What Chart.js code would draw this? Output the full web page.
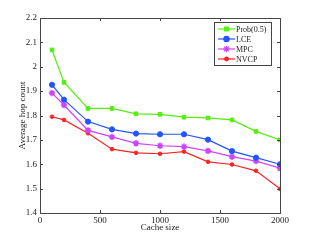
<!DOCTYPE html>
<html lang="en">
<head>
<meta charset="UTF-8">
<title>Average hop count vs cache size</title>
<style>
  html, body { margin: 0; padding: 0; background: #fff; }
  #wrap { width: 310px; height: 240px; }
</style>
</head>
<body>
<div id="wrap"><canvas id="myChart" width="310" height="240"></canvas></div>

<script src="https://cdn.jsdelivr.net/npm/chart.js@4/dist/chart.umd.min.js"></script>
<script>
    // data
    var cacheSizes = [100, 200, 400, 600, 800, 1000, 1200, 1400, 1600, 1800, 2000];
    var prob05 = [2.069, 1.936, 1.829, 1.829, 1.807, 1.805, 1.793, 1.790, 1.782, 1.735, 1.700];
    var lce    = [1.926, 1.865, 1.775, 1.743, 1.726, 1.723, 1.723, 1.701, 1.654, 1.627, 1.600];
    var mpc    = [1.892, 1.843, 1.739, 1.712, 1.686, 1.676, 1.672, 1.655, 1.631, 1.613, 1.584];
    var nvcp   = [1.795, 1.782, 1.727, 1.662, 1.647, 1.643, 1.652, 1.610, 1.599, 1.573, 1.499];
    var xTicks = [0, 500, 1000, 1500, 2000];
    var yTicks = [1.4, 1.5, 1.6, 1.7, 1.8, 1.9, 2.0, 2.1, 2.2];

    var FONT = '"Liberation Serif", "DejaVu Serif", serif';

    function series(label, values, color, style, radius) {
        return {
            label: label,
            data: cacheSizes.map(function (x, i) { return { x: x, y: values[i] }; }),
            borderColor: color,
            backgroundColor: color,
            pointStyle: style,
            pointRadius: radius,
            pointBorderWidth: style === 'star' ? 1.5 : 1,
            borderWidth: 1.2,
            tension: 0
        };
    }

    var datasets = [
        series('Prob(0.5)', prob05, '#55ee11', 'rect', 2.6),
        series('LCE', lce, '#2255ff', 'circle', 2.6),
        series('MPC', mpc, '#cc44ff', 'star', 3.2),
        series('NVCP', nvcp, '#ff2222', 'circle', 1.8)
    ];

    // frame, inward ticks and boxed legend
    var framePlugin = {
        id: 'frame',
        afterDraw: function (chart) {
            var ctx = chart.ctx, a = chart.chartArea;
            var xs = chart.scales.x, ys = chart.scales.y;
            ctx.save();
            ctx.strokeStyle = '#444';
            ctx.lineWidth = 1;
            ctx.strokeRect(a.left + 0.5, a.top + 0.5, a.right - a.left, a.bottom - a.top);
            ctx.beginPath();
            xTicks.forEach(function (v) {
                var px = Math.round(xs.getPixelForValue(v)) + 0.5;
                ctx.moveTo(px, a.bottom); ctx.lineTo(px, a.bottom - 3);
                ctx.moveTo(px, a.top); ctx.lineTo(px, a.top + 3);
            });
            yTicks.forEach(function (v) {
                var py = Math.round(ys.getPixelForValue(v)) + 0.5;
                ctx.moveTo(a.left, py); ctx.lineTo(a.left + 3, py);
                ctx.moveTo(a.right, py); ctx.lineTo(a.right - 3, py);
            });
            ctx.stroke();

            // legend
            var lx = 214, ly = 22, lw = 57, lh = 43;
            ctx.fillStyle = '#fff';
            ctx.fillRect(lx, ly, lw, lh);
            ctx.strokeStyle = '#444';
            ctx.strokeRect(lx + 0.5, ly + 0.5, lw, lh);
            ctx.font = '8px ' + FONT;
            ctx.textBaseline = 'middle';
            datasets.forEach(function (ds, i) {
                var y = ly + 7 + i * 10;
                ctx.strokeStyle = ds.borderColor;
                ctx.lineWidth = 1.2;
                ctx.beginPath();
                ctx.moveTo(lx + 4, y); ctx.lineTo(lx + 21, y);
                ctx.stroke();
                Chart.helpers.drawPoint(ctx, {
                    pointStyle: ds.pointStyle,
                    radius: ds.pointRadius,
                    borderWidth: ds.pointBorderWidth,
                    rotation: 0
                }, lx + 12.5, y);
                ctx.fillStyle = ds.borderColor;
                ctx.fill();
                ctx.fillStyle = '#222';
                ctx.fillText(ds.label, lx + 22, y + 0.5);
            });
            ctx.restore();
        }
    };

    new Chart(document.getElementById('myChart').getContext('2d'), {
        type: 'line',
        data: { datasets: datasets },
        options: {
            responsive: false,
            animation: false,
            layout: { padding: { top: 18, right: 30, left: 0, bottom: 0 } },
            plugins: { legend: { display: false }, tooltip: { enabled: false } },
            scales: {
                x: {
                    type: 'linear',
                    min: 0, max: 2000,
                    afterBuildTicks: function (s) { s.ticks = xTicks.map(function (v) { return { value: v }; }); },
                    afterFit: function (s) { s.height = 27; },
                    grid: { display: false, drawTicks: false },
                    border: { display: false },
                    ticks: {
                        color: '#222', font: { family: FONT, size: 9 }, padding: 2, maxRotation: 0,
                        callback: function (v) { return String(v); }
                    },
                    title: { display: true, text: 'Cache size', color: '#222', font: { family: FONT, size: 9 }, padding: { top: 0, bottom: 7 } }
                },
                y: {
                    min: 1.4, max: 2.2,
                    afterBuildTicks: function (s) { s.ticks = yTicks.map(function (v) { return { value: v }; }); },
                    afterFit: function (s) { s.width = 40; },
                    grid: { display: false, drawTicks: false },
                    border: { display: false },
                    ticks: {
                        color: '#222', font: { family: FONT, size: 9 }, padding: 3,
                        callback: function (v) { return String(+v.toFixed(1)); }
                    },
                    title: { display: true, text: 'Average hop count', color: '#222', font: { family: FONT, size: 9 }, padding: { top: 17, bottom: 0 } }
                }
            }
        },
        plugins: [framePlugin]
    });
</script>
</body>
</html>
